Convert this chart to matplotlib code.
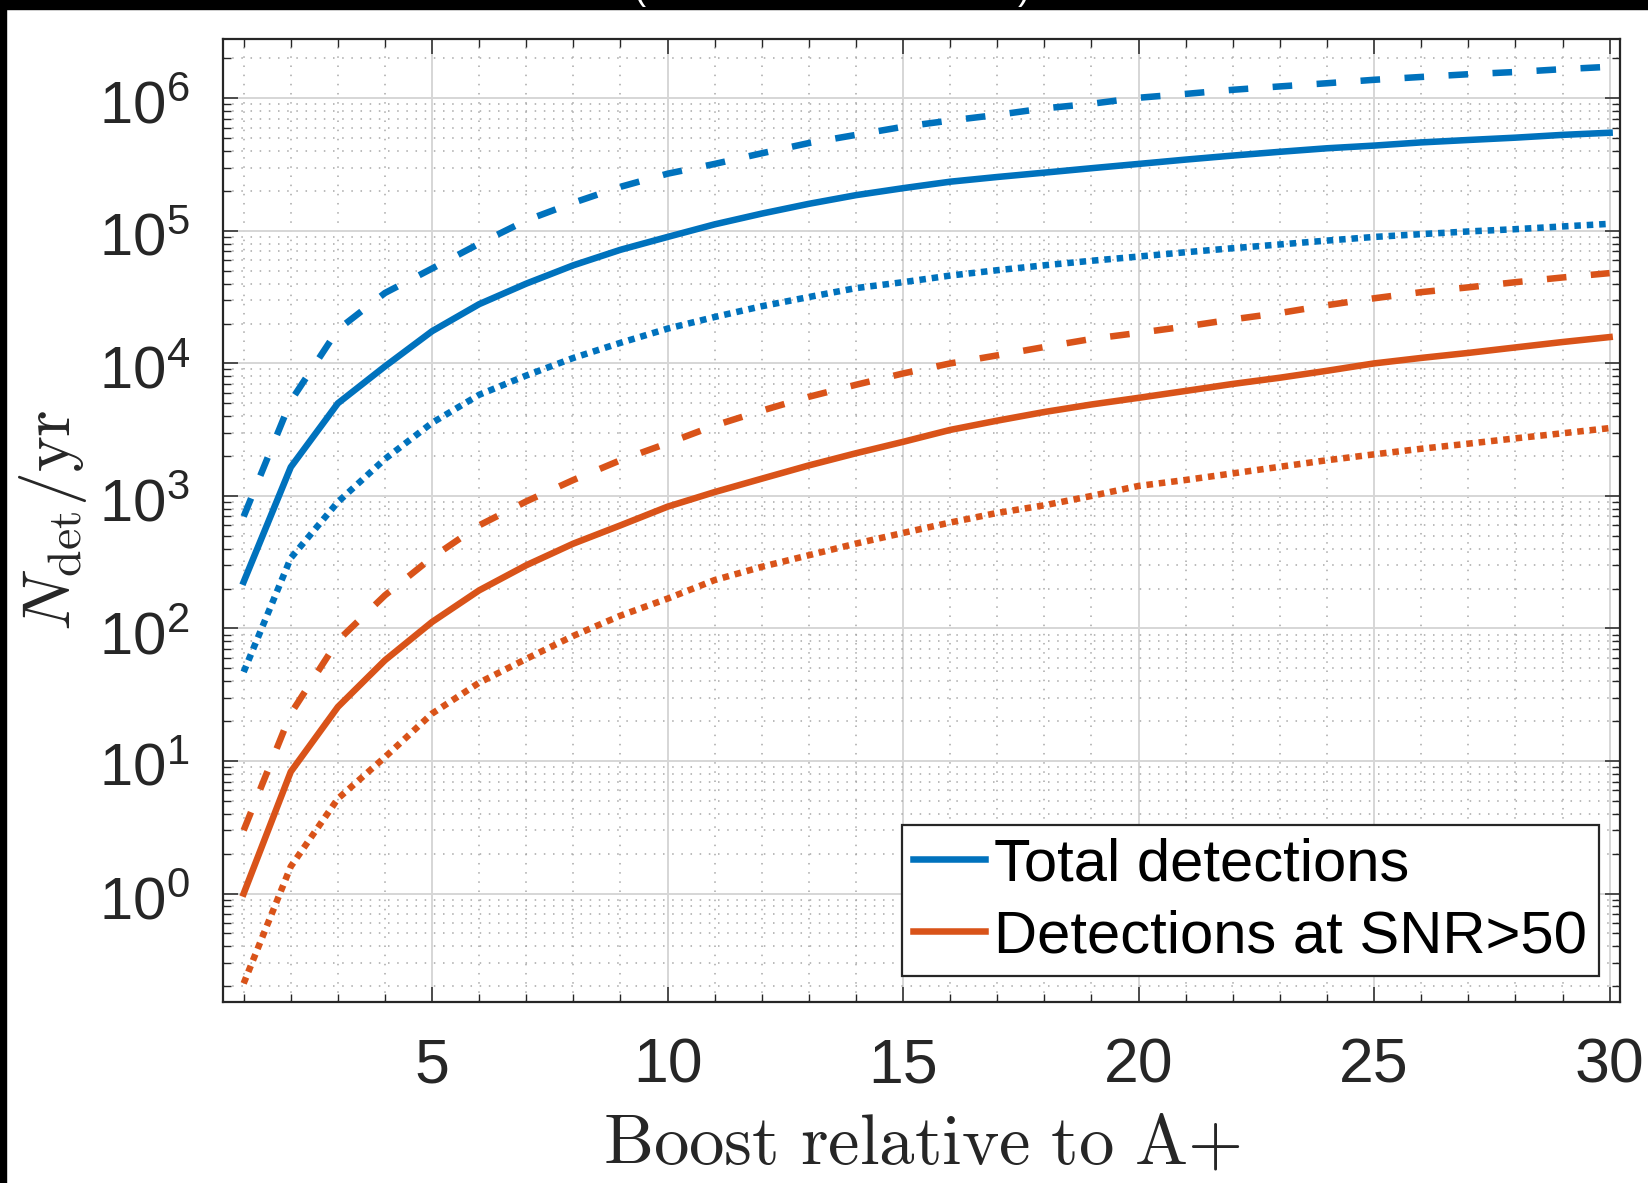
import numpy as np
import matplotlib.pyplot as plt
from matplotlib.patches import Rectangle
from matplotlib.ticker import LogLocator, MultipleLocator, NullFormatter
from matplotlib.transforms import ScaledTranslation

plt.rcParams['font.family'] = ['Liberation Sans', 'DejaVu Sans']
plt.rcParams['mathtext.fontset'] = 'custom'
plt.rcParams['mathtext.rm'] = 'Liberation Sans'
plt.rcParams['mathtext.it'] = 'Liberation Sans:italic'

# boost factor relative to A+
boost = np.arange(1, 31)

# total detections per year (baseline, optimistic, pessimistic)
total_mid = [225, 1650, 5000, 9500, 17500, 28000, 40000, 55000, 72000, 90000,
             112000, 135000, 160000, 186000, 210000, 235000, 255000, 275000, 297000, 320000,
             345000, 370000, 395000, 420000, 440000, 465000, 485000, 505000, 530000, 550000]
total_high = [700, 5200, 18000, 34000, 52000, 80000, 120000, 163000, 215000, 270000,
              320000, 385000, 460000, 530000, 610000, 680000, 750000, 840000, 910000, 1010000,
              1080000, 1160000, 1230000, 1300000, 1380000, 1450000, 1520000, 1580000, 1660000, 1730000]
total_low = [47, 340, 900, 1900, 3560, 5800, 8100, 11000, 14300, 18300,
             22400, 27000, 31700, 37000, 41000, 46000, 50500, 55000, 59500, 64000,
             69000, 74000, 79000, 84500, 90000, 94500, 99000, 103000, 108000, 113000]

# detections at SNR > 50
snr_mid = [1.0, 8.3, 25.6, 57.6, 112, 194, 300, 437, 600, 830,
           1070, 1350, 1700, 2100, 2560, 3150, 3700, 4300, 4900, 5500,
           6200, 7000, 7800, 8800, 10000, 11000, 12000, 13200, 14500, 15800]
snr_high = [3.0, 22.8, 81, 178, 343, 600, 910, 1320, 1860, 2500,
            3400, 4400, 5600, 6900, 8400, 10000, 11500, 13300, 15300, 17000,
            19000, 21500, 24000, 27500, 31000, 34500, 37500, 41000, 44500, 48000]
snr_low = [0.21, 1.6, 5.2, 10.7, 22.8, 39, 59, 88, 125, 168,
           232, 292, 357, 437, 526, 630, 745, 850, 1000, 1190,
           1320, 1480, 1660, 1860, 2060, 2270, 2480, 2720, 2970, 3250]

blue = '#0072BD'
red = '#D95319'
lw = 4.7
dash = (0, (3.0, 3.75))
dot = (0, (1.0, 0.9))

fig = plt.figure(figsize=(16.49, 11.83), dpi=100)
ax = fig.add_axes([0.1352, 0.1530, 0.8472, 0.8138])

ax.plot(boost, total_high, color=blue, lw=lw, ls=dash)
ax.plot(boost, total_low, color=blue, lw=lw, ls=dot)
ax.plot(boost, snr_high, color=red, lw=lw, ls=dash)
ax.plot(boost, snr_low, color=red, lw=lw, ls=dot)
ax.plot(boost, total_mid, color=blue, lw=lw, label='Total detections')
ax.plot(boost, snr_mid, color=red, lw=lw, label='Detections at SNR>50')

ax.set_yscale('log')
ax.set_xlim(0.56, 30.22)
ax.set_ylim(0.152, 2.79e6)

ax.xaxis.set_major_locator(MultipleLocator(5))
ax.xaxis.set_minor_locator(MultipleLocator(1))
ax.yaxis.set_major_locator(LogLocator(base=10, numticks=20))
ax.yaxis.set_minor_locator(LogLocator(base=10, subs=np.arange(2, 10), numticks=20))
ax.yaxis.set_minor_formatter(NullFormatter())

ax.grid(True, which='major', color='#d6d6d6', lw=1.4, ls='-')
ax.grid(True, which='minor', color='#a8a8a8', lw=1.1, ls=(0, (1, 5)))
ax.set_axisbelow(True)

ax.tick_params(which='both', direction='in', top=True, right=True, color='#262626')
ax.tick_params(which='major', length=10.5, width=1.1)
ax.tick_params(which='minor', length=5.5, width=1.0)
ax.tick_params(axis='x', which='major', labelsize=45, pad=25, labelcolor='#262626')
ax.tick_params(axis='y', which='major', labelsize=43, pad=24, labelcolor='#262626')
for s in ax.spines.values():
    s.set_color('#262626')
    s.set_linewidth(1.6)

# nudge the y tick labels down a little, as in the original
shift = ScaledTranslation(0, -4 / 100, fig.dpi_scale_trans)
for t in ax.yaxis.get_major_ticks():
    t.label1.set_transform(t.label1.get_transform() + shift)

ax.set_xlabel(r'$\mathrm{Boost\ relative\ to\ A}{+}$', fontsize=51,
              math_fontfamily='cm', color='#262626', labelpad=12)
ax.set_ylabel(r'$N_{\mathrm{det}}/\mathrm{yr}$', fontsize=49,
              math_fontfamily='cm', color='#262626', labelpad=7)

leg = ax.legend(loc='lower right', bbox_to_anchor=(0.985, 0.027), borderaxespad=0,
                fontsize=43, handlelength=1.2, handletextpad=0.15, labelspacing=0.28,
                borderpad=0.2, fancybox=False, framealpha=1, edgecolor='#262626')
leg.get_frame().set_linewidth(1.6)

# black border of the screenshot at the top and left
fig.patches.append(Rectangle((0, 1 - 9 / 1183), 1, 9 / 1183, transform=fig.transFigure,
                             color='black', zorder=10))
fig.patches.append(Rectangle((0, 0), 6 / 1649, 1, transform=fig.transFigure,
                             color='black', zorder=10))
fig.text(634 / 1649, 1 - 7 / 1183, '(', color='white', fontsize=26, va='bottom', zorder=11)
fig.text(1018 / 1649, 1 - 7 / 1183, ')', color='white', fontsize=26, va='bottom', zorder=11)

fig.savefig('out.png', dpi=100)
